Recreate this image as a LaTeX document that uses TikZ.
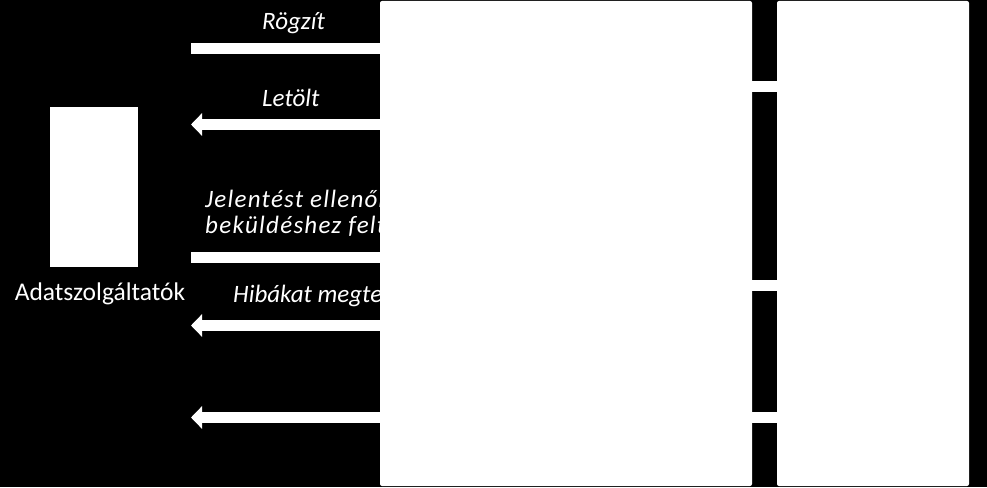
\documentclass[tikz,border=0pt]{standalone}
\usepackage{fontspec}
\setmainfont{Carlito}
\newfontfamily\ritkitott[LetterSpace=5]{Carlito}
\usetikzlibrary{arrows.meta}
\begin{document}
\begin{tikzpicture}[x=1pt,y=-1pt,
        box/.style={fill=white,inner sep=0pt,rounded corners=2pt},
        felirat/.style={text=white,inner sep=0pt,anchor=base west,font=\fontsize{25}{30}\selectfont\itshape},
        bar/.style={draw=white,line width=11pt},
        arr/.style={bar,-{Triangle[width=22pt,length=11pt]}}]
                \useasboundingbox (0,0) rectangle (987,487);
                \fill[black] (0,0) rectangle (987,487);
                
                \node[felirat] (rogzit) at (262,30) {Rögzít};
                \node[felirat] (letolt) at (262,106) {Letölt};
                \node[felirat,font=\fontsize{25}{30}\ritkitott\itshape] (jelentes) at (205,207) {Jelentést ellenőriz,};
                \node[felirat,font=\fontsize{25}{30}\ritkitott\itshape] (bekuld) at (205,233) {beküldéshez feltölt};
                \node[felirat] (hibak) at (233,302) {Hibákat megtekint};
                
                \node[box,minimum width=372pt,minimum height=485pt] (rendszer) at (566,243.5) {};
                \node[box,minimum width=192pt,minimum height=485pt] (tar) at (873,243.5) {};
                \node[box,minimum width=88pt,minimum height=160pt,rounded corners=0pt] (adat) at (94,187) {};
                \node[text=white,inner sep=0pt,anchor=base,font=\fontsize{25.5}{30}\selectfont] (adatnev) at (100,300) {Adatszolgáltatók};
                
                \coordinate (v1) at (191,48.5); \coordinate (v2) at (191,124.5); \coordinate (v3) at (191,257.5);
                \coordinate (v4) at (191,325.5); \coordinate (v5) at (191,417.5);
                
                \draw[bar] (rendszer.west |- v1) to (v1); \draw[arr] (rendszer.west |- v2) to (v2);
                \draw[bar] (rendszer.west |- v3) to (v3); \draw[arr] (rendszer.west |- v4) to (v4);
                \draw[arr] (rendszer.west |- v5) to (v5);
                \draw[bar] (rendszer.east |- 0,86.5) to (tar.west |- 0,86.5);
                \draw[bar] (rendszer.east |- 0,285.5) to (tar.west |- 0,285.5);
                \draw[bar] (rendszer.east |- 0,417.5) to (tar.west |- 0,417.5);
            \end{tikzpicture}
\end{document}
